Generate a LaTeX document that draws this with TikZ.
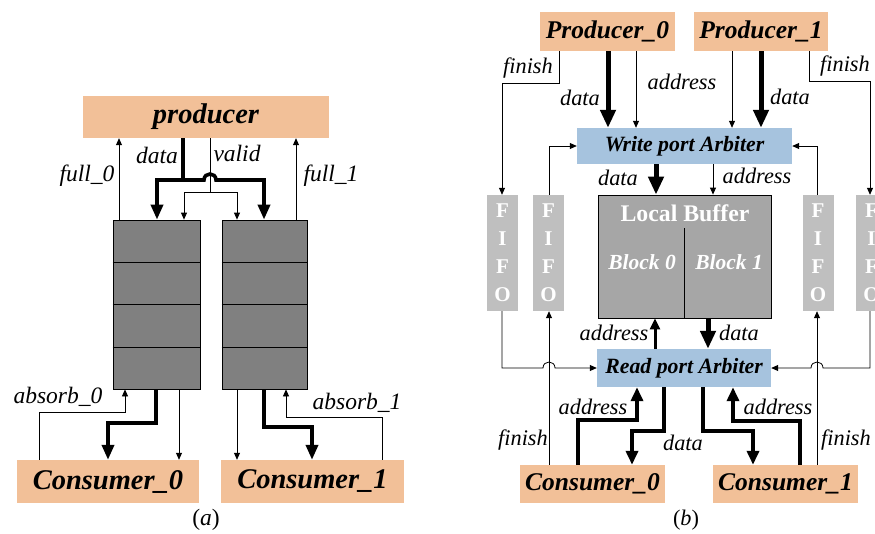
\documentclass[tikz,border=0pt]{standalone}
\usepackage{fontspec}
\setmainfont{Liberation Serif}
\usetikzlibrary{arrows.meta,calc}
\definecolor{peach}{RGB}{242,192,152}
\definecolor{lblue}{RGB}{166,195,222}
\definecolor{fifogray}{RGB}{191,191,191}
\definecolor{bufgray}{RGB}{166,166,166}
\definecolor{darkgray}{RGB}{128,128,128}
\begin{document}
\begin{tikzpicture}[x=1pt,y=-1pt,
  pbox/.style={fill=peach,inner sep=0pt,font=\fontsize{28.5}{30}\selectfont\bfseries\itshape},
  pboxr/.style={fill=peach,inner sep=0pt,font=\fontsize{25.5}{27}\selectfont\bfseries\itshape},
  arb/.style={fill=lblue,inner sep=0pt,font=\fontsize{21.8}{23}\selectfont\bfseries\itshape},
  fifobox/.style={fill=fifogray,inner sep=0pt,minimum width=31pt,minimum height=116pt,text=white,align=center,font=\fontsize{21}{28}\selectfont\bfseries},
  qbox/.style={draw=black,line width=0.8pt,fill=darkgray,inner sep=0pt,minimum height=169pt},
  thinar/.style={line width=0.8pt,-{Triangle[length=7pt,width=6pt]}},
  thinln/.style={line width=0.8pt},
  fatL/.style={line width=3.6pt,-{Triangle[length=15pt,width=12pt]}},
  fatR/.style={line width=5pt,-{Triangle[length=18pt,width=15pt]}},
  fatC/.style={line width=3.6pt,-{Triangle[length=14pt,width=12pt]}},
  medar/.style={line width=3pt,-{Triangle[length=11pt,width=10pt]}},
  lab/.style={inner sep=0pt,font=\fontsize{23.5}{25}\selectfont\itshape},
  labr/.style={inner sep=0pt,font=\fontsize{22.3}{24}\selectfont\itshape}
]
\useasboundingbox (0,0) rectangle (875,533);
\clip (0,0) rectangle (875,533);
\fill[white] (0,0) rectangle (875,533);

% ---------------- (a) ----------------
\node[pbox,minimum width=246pt,minimum height=42pt] (prodA) at (206,117) {producer};
\node[qbox,minimum width=87pt] (fifo0) at (156.5,304.5) {};
\node[qbox,minimum width=85pt] (fifo1) at (264.5,304.5) {};
\foreach \f in {fifo0,fifo1}
  \foreach \t in {0.25,0.5,0.75}
    \draw[line width=0.8pt] ($(\f.north west)!\t!(\f.south west)$) -- ($(\f.north east)!\t!(\f.south east)$);
\node[pbox,minimum width=182pt,minimum height=43pt] (cons0) at (108,481.5) {Consumer\_0};
\node[pbox,minimum width=183pt,minimum height=43pt] (cons1) at (312.5,481.5) {Consumer\_1};

\draw[thinar] (119,0 |- fifo0.north) -- (119,0 |- prodA.south);
\draw[thinar] (296,0 |- fifo1.north) -- (296,0 |- prodA.south);
\draw[thinln] (210,0 |- prodA.south) -- (210,192);
\draw[thinar] (210,192) -- (184,192) -- (184,0 |- fifo0.north);
\draw[thinar] (210,192) -- (237,192) -- (237,0 |- fifo1.north);
\draw[fatL] (183,0 |- prodA.south) -- (183,180) -- (157,180) -- (157,0 |- fifo0.north);
\draw[fatL] (181.5,180) -- (204,180) .. controls (204,172) and (216,172) .. (216,180) -- (264,180) -- (264,0 |- fifo1.north);

\draw[thinar] (39,0 |- cons0.north) -- (39,412) -- (125,412) -- (125,0 |- fifo0.south);
\draw[fatL] (156,0 |- fifo0.south) -- (156,423) -- (108,423) -- (108,0 |- cons0.north);
\draw[thinar] (179,0 |- fifo0.south) -- (179,0 |- cons0.north);
\draw[thinar] (237,0 |- fifo1.south) -- (237,0 |- cons1.north);
\draw[fatL] (264,0 |- fifo1.south) -- (264,427) -- (312,427) -- (312,0 |- cons1.north);
\draw[thinar] (382,0 |- cons1.north) -- (382,417) -- (286,417) -- (286,0 |- fifo1.south);

\node[lab] (ldata) at (157,155) {data};
\node[lab] (lvalid) at (237,153) {valid};
\node[lab] (lfull0) at (87,176) {full\_0};
\node[lab] (lfull1) at (331,176) {full\_1};
\node[lab] (labs0) at (58,397) {absorb\_0};
\node[lab] (labs1) at (357,403) {absorb\_1};
\node[lab] (capa) at (206,520) {\upshape(\itshape a\upshape)};

% ---------------- (b) ----------------
\node[pboxr,minimum width=135pt,minimum height=39pt] (p0) at (607.5,31.5) {Producer\_0};
\node[pboxr,minimum width=134pt,minimum height=39pt] (p1) at (761,31.5) {Producer\_1};
\node[arb,minimum width=215pt,minimum height=36pt] (warb) at (684.5,146) {Write port Arbiter};
\node[draw=black,line width=0.8pt,fill=bufgray,inner sep=0pt,minimum width=173pt,minimum height=123pt] (buf) at (684.5,256.5) {};
\node[inner sep=0pt,text=white,font=\fontsize{23.8}{25}\selectfont\bfseries] (buft) at (685,213) {Local Buffer};
\draw[line width=0.8pt] (buf.south) -- (buf.south |- 0,228);
\node[inner sep=0pt,text=white,font=\fontsize{21.5}{23}\selectfont\bfseries\itshape] (blk0) at (642,262) {Block 0};
\node[inner sep=0pt,text=white,font=\fontsize{21.5}{23}\selectfont\bfseries\itshape] (blk1) at (729,262) {Block 1};
\node[arb,minimum width=174pt,minimum height=38pt] (rarb) at (684,368) {Read port Arbiter};
\node[fifobox] (fA) at (502.5,253) {F\\I\\F\\O};
\node[fifobox] (fB) at (548.5,253) {F\\I\\F\\O};
\node[fifobox] (fC) at (818,253) {F\\I\\F\\O};
\node[fifobox] (fD) at (871.5,253) {F\\I\\F\\O};
\node[pboxr,minimum width=145pt,minimum height=38pt] (c0) at (592.5,484) {Consumer\_0};
\node[pboxr,minimum width=145pt,minimum height=38pt] (c1) at (785.5,484) {Consumer\_1};

\draw[thinar] (559,0 |- p0.south) -- (559,83) -- (502,83) -- (502,0 |- fA.north);
\draw[thinar] (809,0 |- p1.south) -- (809,81) -- (870,81) -- (870,0 |- fD.north);
\draw[fatR] (608,0 |- p0.south) -- (608,0 |- warb.north);
\draw[thinar] (636,0 |- p0.south) -- (636,0 |- warb.north);
\draw[thinar] (732,0 |- p1.south) -- (732,0 |- warb.north);
\draw[fatR] (761,0 |- p1.south) -- (761,0 |- warb.north);
\draw[thinar] (549,0 |- fB.north) -- (549,146) -- (warb.west);
\draw[thinar] (817,0 |- fC.north) -- (817,146) -- (warb.east);
\draw[fatR] (656,0 |- warb.south) -- (656,0 |- buf.north);
\draw[thinar] (713,0 |- warb.south) -- (713,0 |- buf.north);
\draw[medar] (655,0 |- rarb.north) -- (655,0 |- buf.south);
\draw[fatR] (708,0 |- buf.south) -- (708,0 |- rarb.north);
\draw[thinar] (502,0 |- fA.south) -- (502,368) -- (543,368) .. controls (543,360) and (555,360) .. (555,368) -- (rarb.west);
\draw[thinar] (870,0 |- fD.south) -- (870,368) -- (823,368) .. controls (823,360) and (811,360) .. (811,368) -- (rarb.east);
\draw[thinar] (549,0 |- c0.north) -- (549,0 |- fB.south);
\draw[thinar] (817,0 |- c1.north) -- (817,0 |- fC.south);
\draw[fatC] (578,0 |- c0.north) -- (578,420) -- (637,420) -- (637,0 |- rarb.south);
\draw[fatC] (664,0 |- rarb.south) -- (664,431) -- (632,431) -- (632,0 |- c0.north);
\draw[fatC] (703,0 |- rarb.south) -- (703,431) -- (753,431) -- (753,0 |- c1.north);
\draw[fatC] (800,0 |- c1.north) -- (800,421) -- (733,421) -- (733,0 |- rarb.south);

\node[labr] (rf0) at (528,68) {finish};
\node[labr] (rf1) at (845,66) {finish};
\node[labr] (rd0) at (580,98) {data};
\node[labr] (ra0) at (682,82) {address};
\node[labr] (rd1) at (790,97) {data};
\node[labr] (rd2) at (618,178) {data};
\node[labr] (ra2) at (757,176) {address};
\node[labr] (ra3) at (614,333) {address};
\node[labr] (rd3) at (739,333) {data};
\node[labr] (rf2) at (523,440) {finish};
\node[labr] (ra4) at (593,407) {address};
\node[labr] (rd4) at (683,443) {data};
\node[labr] (ra5) at (778,407) {address};
\node[labr] (rf3) at (846,440) {finish};
\node[labr] (capb) at (686,520) {\upshape(\itshape b\upshape)};
\end{tikzpicture}
\end{document}
